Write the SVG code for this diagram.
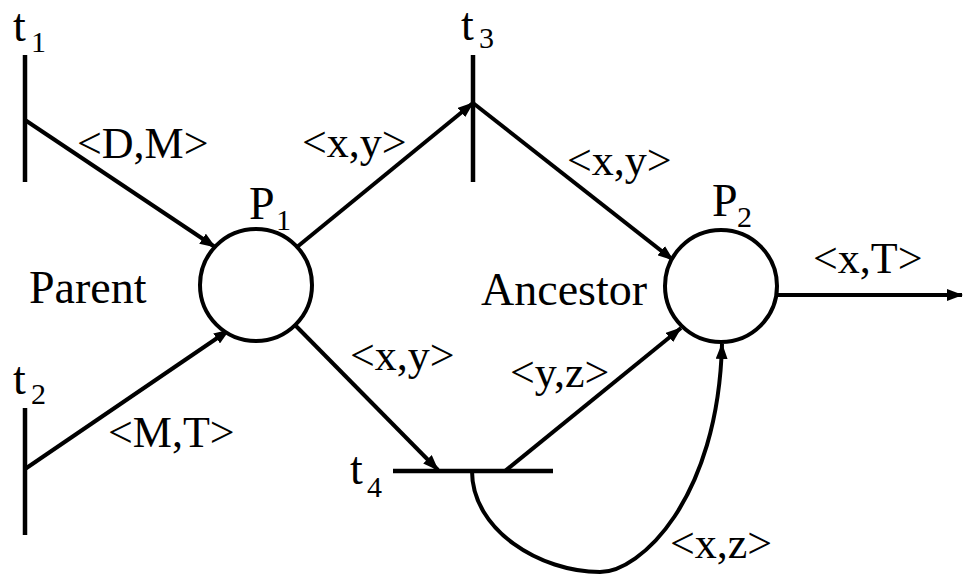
<svg xmlns="http://www.w3.org/2000/svg" width="963" height="575" viewBox="0 0 963 575">
<style>
.ln{stroke:#000;stroke-width:4;fill:none}
.bar{stroke:#000;stroke-width:4.5;fill:none}
.pl{stroke:#000;stroke-width:4;fill:#fff}
.lb{font-size:44px}
.nm{font-size:46px}
.sb{font-size:30px}
</style>
<defs>
<marker id="ah" markerUnits="userSpaceOnUse" markerWidth="16" markerHeight="12" refX="15" refY="6" orient="auto">
<path d="M0,0 L16,6 L0,12 z" fill="#000"/>
</marker>
</defs>
<rect width="963" height="575" fill="#fff"/>
<g id="connectors">
<line class="ln" x1="25" y1="120" x2="215" y2="247" marker-end="url(#ah)"/>
<line class="ln" x1="25" y1="469" x2="229" y2="330" marker-end="url(#ah)"/>
<line class="ln" x1="297" y1="247" x2="473" y2="103" marker-end="url(#ah)"/>
<line class="ln" x1="473" y1="103" x2="673" y2="260" marker-end="url(#ah)"/>
<line class="ln" x1="296" y1="326" x2="438" y2="470" marker-end="url(#ah)"/>
<line class="ln" x1="505" y1="471" x2="681" y2="328" marker-end="url(#ah)"/>
<path class="ln" d="M472,471 C472,530 540,572 600,572 C640,572 718,500 722,344" marker-end="url(#ah)"/>
<line class="ln" x1="777" y1="295" x2="962" y2="295" marker-end="url(#ah)"/>
</g>
<g font-family="Liberation Serif, Times New Roman, Times, serif" fill="#000">
<g id="t1">
<line class="bar" x1="25" y1="55" x2="25" y2="182"/>
<text class="nm" x="13" y="41">t</text><text class="sb" x="31" y="52">1</text>
</g>
<g id="t2">
<line class="bar" x1="25" y1="408" x2="25" y2="535"/>
<text class="nm" x="13" y="394">t</text><text class="sb" x="31" y="404">2</text>
</g>
<g id="t3">
<line class="bar" x1="473" y1="55" x2="473" y2="182"/>
<text class="nm" x="461" y="40">t</text><text class="sb" x="479" y="48">3</text>
</g>
<g id="t4">
<line class="bar" x1="393" y1="471" x2="553" y2="471"/>
<text class="nm" x="350" y="484">t</text><text class="sb" x="367" y="497">4</text>
</g>
<g id="P1">
<circle class="pl" cx="256" cy="285" r="56"/>
<text class="nm" x="249" y="219">P</text><text class="sb" x="276" y="230">1</text>
</g>
<g id="P2">
<circle class="pl" cx="721" cy="286" r="56"/>
<text class="nm" x="712" y="216">P</text><text class="sb" x="737" y="227">2</text>
</g>
<g id="labels">
<text class="nm" x="29" y="303">Parent</text>
<text class="nm" x="481" y="305">Ancestor</text>
<text class="lb" x="77" y="158">&lt;D,M&gt;</text>
<text class="lb" x="302" y="157">&lt;x,y&gt;</text>
<text class="lb" x="567" y="175">&lt;x,y&gt;</text>
<text class="lb" x="813" y="273">&lt;x,T&gt;</text>
<text class="lb" x="350" y="370">&lt;x,y&gt;</text>
<text class="lb" x="510" y="387">&lt;y,z&gt;</text>
<text class="lb" x="108" y="447">&lt;M,T&gt;</text>
<text class="lb" x="670" y="558">&lt;x,z&gt;</text>
</g>
</g>
</svg>
